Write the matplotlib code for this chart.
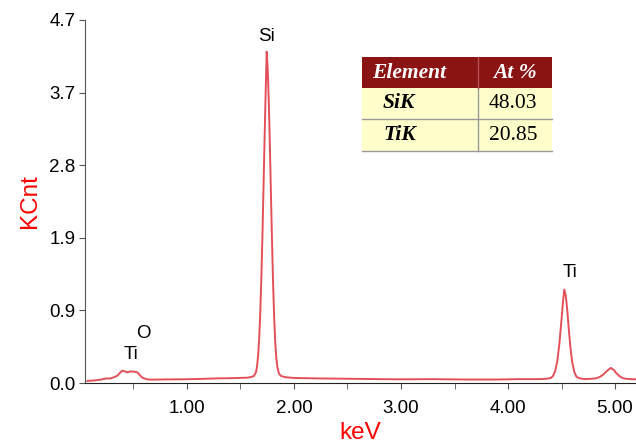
import matplotlib
matplotlib.use('Agg')
import matplotlib.pyplot as plt
from matplotlib.patches import Rectangle
from matplotlib.lines import Line2D

plt.rcParams['font.family'] = ['Liberation Sans', 'DejaVu Sans']

# spectrum (keV, KCnt)
kev = [0.07, 0.10, 0.15, 0.20, 0.25, 0.28, 0.32, 0.35, 0.37, 0.395, 0.42, 0.442,
       0.47, 0.505, 0.536, 0.56, 0.582, 0.62, 0.66, 0.75, 0.85, 0.97, 1.10, 1.20,
       1.283, 1.40, 1.50, 1.564, 1.60, 1.625,
       1.645, 1.655, 1.665, 1.675, 1.685, 1.695, 1.705, 1.715, 1.725, 1.735, 1.745,
       1.755, 1.765, 1.775, 1.785, 1.795, 1.805, 1.815, 1.825, 1.835, 1.845, 1.86,
       1.88, 1.92, 2.00, 2.20, 2.50, 2.80, 3.00, 3.30, 3.60, 3.90, 4.10, 4.30,
       4.36, 4.40, 4.42, 4.44, 4.46, 4.48, 4.50, 4.515, 4.526, 4.54, 4.555, 4.57,
       4.585, 4.60, 4.62, 4.64, 4.67, 4.72, 4.78, 4.82, 4.86, 4.89, 4.92, 4.945,
       4.963, 4.975, 4.99, 5.01, 5.04, 5.07, 5.10, 5.15, 5.19]
kcnt = [0.026, 0.030, 0.035, 0.045, 0.060, 0.058, 0.075, 0.095, 0.125, 0.160, 0.150, 0.138,
        0.150, 0.147, 0.138, 0.100, 0.069, 0.050, 0.043, 0.045, 0.047, 0.048, 0.052, 0.056,
        0.060, 0.062, 0.066, 0.069, 0.078, 0.090,
        0.14, 0.22, 0.36, 0.58, 0.92, 1.36, 1.90, 2.52, 3.15, 3.75, 4.29,
        4.05, 3.62, 3.05, 2.42, 1.82, 1.28, 0.84, 0.52, 0.32, 0.20, 0.12,
        0.09, 0.075, 0.065, 0.060, 0.055, 0.050, 0.048, 0.050, 0.045, 0.045, 0.050, 0.050,
        0.055, 0.065, 0.09, 0.15, 0.28, 0.51, 0.82, 1.07, 1.21, 1.13, 0.92, 0.66,
        0.44, 0.27, 0.14, 0.08, 0.06, 0.05, 0.055, 0.06, 0.08, 0.11, 0.15, 0.18,
        0.195, 0.18, 0.17, 0.13, 0.09, 0.065, 0.055, 0.05, 0.048]

y_ticks = [0.0, 0.94, 1.88, 2.82, 3.76, 4.7]
y_labels = ['0.0', '0.9', '1.9', '2.8', '3.7', '4.7']
x_major = [1, 2, 3, 4, 5]
x_labels = ['1.00', '2.00', '3.00', '4.00', '5.00']
x_minor = [0.5, 1.5, 2.5, 3.5, 4.5]

peak_names = ['Si', 'Ti', 'O', 'Ti']
peak_x = [1.745, 4.58, 0.589, 0.477]
peak_y = [4.48, 1.437, 0.647, 0.363]

tab_header = ['Element', 'At %']
tab_elem = ['SiK', 'TiK']
tab_at = ['48.03', '20.85']

W, H = 636, 443
fig = plt.figure(figsize=(W / 100, H / 100), dpi=100)
ax = fig.add_axes([85 / W, (H - 383) / H, (W - 85) / W, (383 - 20) / H])

ax.plot(kev, kcnt, color='#e4505a', linewidth=1.4)
ax.set_xlim(0.047, 5.196)
ax.set_ylim(0, 4.7)

ax.set_yticks(y_ticks)
ax.set_yticklabels(y_labels)
ax.set_xticks(x_major)
ax.set_xticklabels(x_labels)
ax.set_xticks(x_minor, minor=True)
ax.tick_params(axis='both', which='both', direction='out', length=4, labelsize=13.5,
               color='#555555')
ax.tick_params(axis='x', pad=8)
ax.tick_params(axis='y', pad=3)

for s in ['top', 'right']:
    ax.spines[s].set_visible(False)
ax.spines['left'].set_color('#555555')
ax.spines['bottom'].set_color('#222222')

ax.set_xlabel('keV', color='red', fontsize=17.5, labelpad=4)
ax.set_ylabel('KCnt', color='red', fontsize=17.5, labelpad=6)

for name, px, py in zip(peak_names, peak_x, peak_y):
    ax.text(px, py, name, fontsize=13.5, ha='center', va='center')

# composition table drawn in pixel units
def fx(x):
    return x / W

def fy(y):
    return 1 - y / H

tx0, tx1, tmid = 362, 552, 478
rows = [57, 88, 119, 151]
fig.patches.append(Rectangle((fx(tx0), fy(rows[1])), fx(tx1 - tx0), (rows[1] - rows[0]) / H,
                             transform=fig.transFigure, facecolor='#8a1414', edgecolor='none'))
fig.patches.append(Rectangle((fx(tx0), fy(rows[3])), fx(tx1 - tx0), (rows[3] - rows[1]) / H,
                             transform=fig.transFigure, facecolor='#ffffcc', edgecolor='none'))
for ry in rows[2:]:
    fig.lines.append(Line2D([fx(tx0), fx(tx1)], [fy(ry), fy(ry)], transform=fig.transFigure,
                            color='#9a9a9a', linewidth=1))
fig.lines.append(Line2D([fx(tmid), fx(tmid)], [fy(rows[1]), fy(rows[3])], transform=fig.transFigure,
                        color='#9a9a9a', linewidth=1))
fig.lines.append(Line2D([fx(tmid), fx(tmid)], [fy(rows[0]), fy(rows[1])], transform=fig.transFigure,
                        color='#b05050', linewidth=1))

serif = ['Liberation Serif', 'DejaVu Serif']
fig.text(fx(372), fy(73), tab_header[0], family=serif, fontsize=15.5, weight='bold', style='italic',
         color='white', ha='left', va='center')
fig.text(fx(515), fy(73), tab_header[1], family=serif, fontsize=15.5, weight='bold', style='italic',
         color='white', ha='center', va='center')
for i in range(2):
    cy = (rows[i + 1] + rows[i + 2]) / 2
    fig.text(fx(383), fy(cy), tab_elem[i], family=serif, fontsize=15.5, weight='bold', style='italic',
             ha='left', va='center')
    fig.text(fx(513), fy(cy), tab_at[i], family=serif, fontsize=15.5, ha='center', va='center')

fig.savefig('out.png', dpi=100)
